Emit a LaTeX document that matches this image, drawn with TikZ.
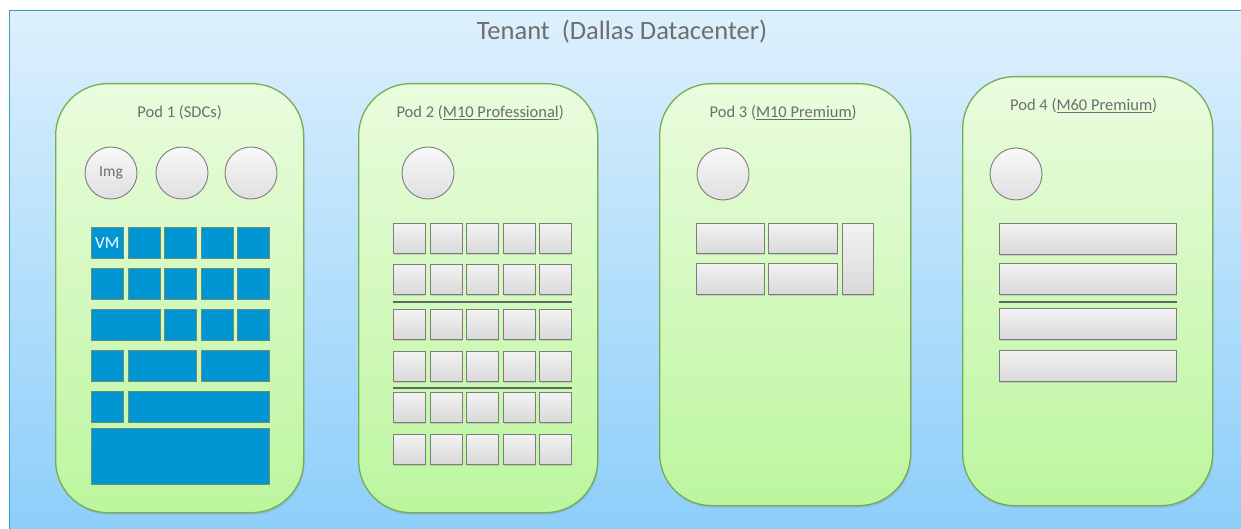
\documentclass[tikz,border=0pt]{standalone}
\usepackage{fontspec}
\setmainfont{Carlito}
\usetikzlibrary{shadows}
\definecolor{tenantline}{RGB}{60,155,195}
\definecolor{skytop}{RGB}{221,240,252}
\definecolor{skybottom}{RGB}{140,206,250}
\definecolor{podtop}{RGB}{234,252,222}
\definecolor{podbottom}{RGB}{188,246,158}
\definecolor{podline}{RGB}{116,174,84}
\definecolor{vmblue}{RGB}{0,150,212}
\definecolor{vmline}{RGB}{110,140,115}
\definecolor{labelgray}{RGB}{110,110,110}
\definecolor{slotline}{RGB}{125,125,125}
\definecolor{dividergray}{RGB}{95,105,96}

\begin{document}
\begin{tikzpicture}[x=1pt, y=-1pt, font=\fontsize{16.5}{19}\selectfont,
	tenant/.style={draw=tenantline, line width=1.2pt, top color=skytop, bottom color=skybottom, anchor=north west, inner sep=0pt},
	pod/.style={draw=podline, line width=1.3pt, rounded corners=52pt, top color=podtop, bottom color=podbottom, anchor=north west, inner sep=0pt,
		drop shadow={opacity=0.25, shadow xshift=1pt, shadow yshift=-2pt}},
	podtitle/.style={text=labelgray, inner sep=1pt},
	disk/.style={circle, draw=slotline, line width=0.9pt, top color=gray!5, bottom color=gray!25, minimum size=52pt, inner sep=0pt, text=labelgray,
		font=\fontsize{15.5}{18}\selectfont},
	vm/.style={draw=vmline, line width=0.6pt, fill=vmblue, anchor=north west, inner sep=0pt, minimum width=32pt, minimum height=31pt, text=white,
		font=\fontsize{17}{19}\selectfont},
	slot/.style={draw=slotline, line width=0.9pt, top color=gray!10, bottom color=gray!30, anchor=north west, inner sep=0pt,
		minimum width=32pt, minimum height=30pt, drop shadow={opacity=0.3, shadow xshift=1pt, shadow yshift=-1.5pt}},
	divider/.style={draw=dividergray, line width=2pt}]
	% Hintergrund
	\path[use as bounding box, fill=white] (0,0) rectangle (1241,529);
	\node[tenant, minimum width=1240pt, minimum height=525pt] (tenant) at (9,10) {};
	\node[podtitle, font=\fontsize{26.5}{30}\selectfont] (tenanttitle) at (622,32) {Tenant\ \ (Dallas Datacenter)};
	% Pods
	\node[pod, minimum width=248pt, minimum height=429pt] (pod1) at (55,83) {};
	\node[pod, minimum width=239pt, minimum height=429pt] (pod2) at (358,83) {};
	\node[pod, minimum width=251pt, minimum height=422pt] (pod3) at (659,83) {};
	\node[pod, minimum width=250pt, minimum height=429pt] (pod4) at (962,76) {};
	% Titel der Pods
	\node[podtitle] (title1) at ([yshift=-30pt]pod1.north) {Pod 1 (SDCs)};
	\node[podtitle] (title2) at ([xshift=2pt,yshift=-30pt]pod2.north) {Pod 2 (\underline{M10 Professional})};
	\node[podtitle] (title3) at ([xshift=-2pt,yshift=-30pt]pod3.north) {Pod 3 (\underline{M10 Premium})};
	\node[podtitle] (title4) at ([xshift=-4pt,yshift=-30pt]pod4.north) {Pod 4 (\underline{M60 Premium})};
	% Images
	\node[disk] (img1) at (111,173) {Img};
	\node[disk] (img2) at (182,173) {};
	\node[disk] (img3) at (251,173) {};
	\node[disk] (img4) at (428,173) {};
	\node[disk] (img5) at (723,174) {};
	\node[disk] (img6) at (1016,174) {};
	% Pod 1: VMs
	\node[vm] (v11) at (91,227) {VM};
	\foreach \c in {2,...,5} \node[vm] (v1\c) at ({91+36.5*(\c-1)},227) {};
	\foreach \c in {1,...,5} \node[vm] (v2\c) at ({91+36.5*(\c-1)},268) {};
	\node[vm, minimum width=68.5pt] (v31) at (91,309) {};
	\foreach \c in {3,...,5} \node[vm] (v3\c) at ({91+36.5*(\c-1)},309) {};
	\node[vm] (v41) at (91,350) {};
	\node[vm, minimum width=68.5pt] (v42) at (127.5,350) {};
	\node[vm, minimum width=68.5pt] (v43) at (200.5,350) {};
	\node[vm] (v51) at (91,391) {};
	\node[vm, minimum width=141.5pt] (v52) at (127.5,391) {};
	\node[vm, minimum width=178pt, minimum height=56pt] (v61) at (91,428) {};
	% Pod 2: M10 Professional
	\foreach \r/\y in {1/223,2/264,3/309,4/351,5/392,6/434}
		\foreach \c in {1,...,5}
			\node[slot] (b\r\c) at ({393+36.5*(\c-1)},\y) {};
	\draw[divider] ([yshift=-7pt]b21.south west) -- ([yshift=-7pt]b25.south east);
	\draw[divider] ([yshift=-6pt]b41.south west) -- ([yshift=-6pt]b45.south east);
	% Pod 3: M10 Premium
	\node[slot, minimum width=68pt] (p11) at (696,223) {};
	\node[slot, minimum width=69pt] (p12) at (768,223) {};
	\node[slot, minimum width=68pt, minimum height=31pt] (p21) at (696,263) {};
	\node[slot, minimum width=69pt, minimum height=31pt] (p22) at (768,263) {};
	\node[slot, minimum width=31pt, minimum height=71pt] (p13) at (842,223) {};
	% Pod 4: M60 Premium
	\foreach \r/\y in {1/223,2/263,3/308,4/350}
		\node[slot, minimum width=177pt, minimum height=31pt] (m\r) at (999,\y) {};
	\draw[divider] ([yshift=-7pt]m2.south west) -- ([yshift=-7pt]m2.south east);
\end{tikzpicture}
\end{document}
